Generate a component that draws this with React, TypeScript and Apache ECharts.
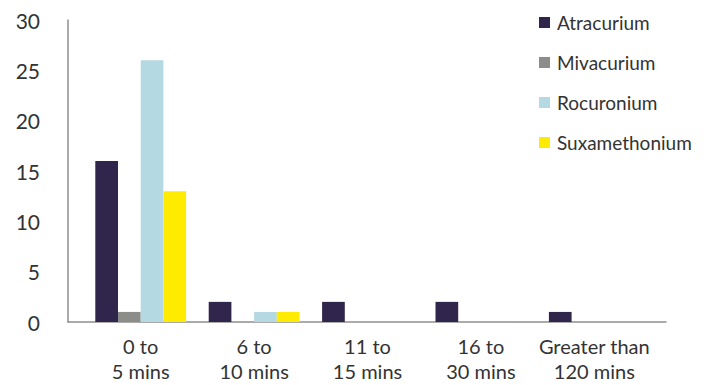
import React, { useEffect, useRef } from "react";
import * as echarts from "echarts";

const categories = ["0 to\n5 mins", "6 to\n10 mins", "11 to\n15 mins", "16 to\n30 mins", "Greater than\n120 mins"];
const atracurium = [16, 2, 2, 2, 1];
const mivacurium = [1, 0, 0, 0, 0];
const rocuronium = [26, 1, 0, 0, 0];
const suxamethonium = [13, 1, 0, 0, 0];
const seriesNames = ["Atracurium", "Mivacurium", "Rocuronium", "Suxamethonium"];
const seriesColors = ["#30264b", "#8c8c8a", "#b5d9e3", "#ffeb00"];

const FONT = "Lato";
const TEXT = "#333333";

export default function App() {
  const ref = useRef<HTMLDivElement>(null);
  useEffect(() => {
    if (!ref.current) return;
    const chart = echarts.init(ref.current, undefined, { renderer: "svg" });
    const data = [atracurium, mivacurium, rocuronium, suxamethonium];
    chart.setOption({
      animation: false,
      textStyle: { fontFamily: FONT },
      grid: [
        { left: 68, right: 47, top: 20, bottom: 63 },
        { left: 84, right: 62, top: 20, bottom: 63 },
      ],
      legend: {
        orient: "vertical",
        left: 534,
        top: 7,
        itemWidth: 11,
        itemHeight: 11,
        itemGap: 19,
        icon: "rect",
        textStyle: { fontFamily: FONT, fontSize: 19, color: TEXT, padding: [0, 0, 0, 2], lineHeight: 21 },
        data: seriesNames,
      },
      xAxis: [
        {
          type: "value",
          gridIndex: 0,
          min: 0,
          max: 1,
          axisLine: { show: true, lineStyle: { color: "#8f8f8f", width: 1.5 } },
          axisTick: { show: false },
          axisLabel: { show: false },
          splitLine: { show: false },
        },
        {
          type: "category",
          gridIndex: 1,
          data: categories,
          axisLine: { show: false },
          axisTick: { show: false },
          axisLabel: {
            margin: 11,
            fontFamily: FONT,
            fontSize: 20,
            lineHeight: 25,
            color: TEXT,
            interval: 0,
          },
        },
      ],
      yAxis: [
        {
          type: "value",
          gridIndex: 0,
          min: 0,
          max: 30,
          interval: 5,
          axisLine: { show: true, lineStyle: { color: "#8f8f8f", width: 1.5 } },
          axisTick: { show: false },
          splitLine: { show: false },
          axisLabel: { margin: 28, fontFamily: FONT, fontSize: 21, color: TEXT },
        },
        {
          type: "value",
          gridIndex: 1,
          min: 0,
          max: 30,
          show: false,
          splitLine: { show: false },
        },
      ],
      series: seriesNames.map((name, i) => ({
        name,
        type: "bar",
        xAxisIndex: 1,
        yAxisIndex: 1,
        data: data[i],
        barWidth: 22.7,
        barGap: "0%",
        itemStyle: { color: seriesColors[i] },
      })),
    });
    return () => chart.dispose();
  }, []);
  return <div ref={ref} style={{ width: 713, height: 385, position: "absolute", left: 0, top: 0, background: "#fff" }} />;
}
